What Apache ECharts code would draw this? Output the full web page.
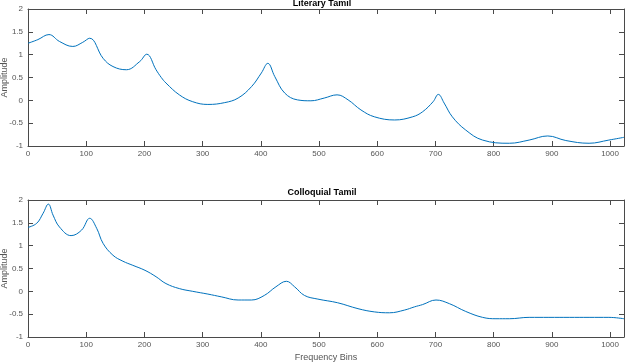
<!DOCTYPE html>
<html>
<head>
<meta charset="utf-8">
<script src="https://cdn.jsdelivr.net/npm/echarts@6/dist/echarts.min.js"></script>
<style>
html,body{margin:0;padding:0;background:#fff;}
#chart{width:626px;height:362px;}
</style>
</head>
<body>
<div id="chart"></div>
<script>
// ---- Data ----
const titles = ["Literary Tamil", "Colloquial Tamil"];
const xAxisName = "Frequency Bins";
const yAxisName = "Amplitude";

const literaryX = [0, 17, 36, 54, 77, 94, 106, 129, 146, 169, 192, 204, 220, 229, 237, 260, 283, 309, 338, 361, 384, 401, 412, 424, 441, 463, 486, 509, 531, 550, 572, 595, 630, 661, 678, 696, 705, 715, 729, 752, 781, 827, 861, 893, 924, 964, 998, 1024];
const literaryY = [1.25, 1.33, 1.44, 1.29, 1.18, 1.27, 1.36, 0.92, 0.74, 0.67, 0.85, 1.01, 0.67, 0.50, 0.38, 0.12, -0.03, -0.09, -0.05, 0.05, 0.30, 0.60, 0.81, 0.52, 0.16, 0.01, -0.01, 0.05, 0.12, 0.01, -0.21, -0.36, -0.43, -0.36, -0.25, -0.03, 0.13, -0.06, -0.36, -0.65, -0.87, -0.94, -0.87, -0.78, -0.88, -0.94, -0.87, -0.81];

const colloquialX = [0, 15, 26, 35, 43, 54, 74, 92, 106, 118, 129, 146, 163, 180, 201, 220, 237, 260, 283, 309, 332, 361, 384, 406, 426, 444, 458, 475, 498, 532, 567, 595, 621, 647, 664, 678, 701, 724, 752, 781, 804, 827, 861, 895, 930, 964, 998, 1024];
const colloquialY = [1.40, 1.49, 1.71, 1.91, 1.67, 1.41, 1.22, 1.34, 1.60, 1.38, 1.05, 0.79, 0.66, 0.57, 0.46, 0.32, 0.17, 0.06, 0.00, -0.06, -0.12, -0.19, -0.19, -0.09, 0.10, 0.22, 0.10, -0.09, -0.17, -0.25, -0.38, -0.45, -0.47, -0.41, -0.34, -0.29, -0.19, -0.27, -0.44, -0.57, -0.60, -0.60, -0.57, -0.57, -0.57, -0.57, -0.57, -0.60];

const xMin = 0, xMax = 1024, xStep = 100;
const yMin = -1, yMax = 2, yStep = 0.5;

// ---- Chart ----
const FONT = '"Liberation Sans", Arial, Helvetica, sans-serif';
const AX = '#4a4a4a';
const LBL = '#555555';
const LINE = '#0072BD';

function pairs(xs, ys) { return xs.map((x, i) => [x, ys[i]]); }

const grids = [
  { left: 28, top: 9, width: 596, height: 137, containLabel: false, outerBoundsMode: 'none' },
  { left: 28, top: 200, width: 596, height: 137, containLabel: false, outerBoundsMode: 'none' }
];
const titleY = [3.5, 193];

const xAxes = [], yAxes = [], series = [], graphics = [];
const datasets = [pairs(literaryX, literaryY), pairs(colloquialX, colloquialY)];

grids.forEach((g, i) => {
  xAxes.push({
    type: 'value', gridIndex: i, position: 'bottom', min: xMin, max: xMax, interval: xStep,
    axisLine: { show: true, onZero: false, lineStyle: { color: AX, width: 1 } },
    axisTick: { show: true, inside: true, length: 5, lineStyle: { color: AX } },
    axisLabel: { show: true, showMaxLabel: false, color: LBL, fontSize: 8, fontFamily: FONT, margin: 4,
                 formatter: v => String(v) },
    splitLine: { show: false },
    name: i === 1 ? xAxisName : '', nameLocation: 'middle', nameGap: 16, nameMoveOverlap: false,
    nameTextStyle: { color: LBL, fontSize: 9, fontFamily: FONT }
  });
  xAxes.push({
    type: 'value', gridIndex: i, position: 'top', min: xMin, max: xMax, interval: xStep,
    axisLine: { show: true, onZero: false, lineStyle: { color: AX, width: 1 } },
    axisTick: { show: true, inside: true, length: 5, lineStyle: { color: AX } },
    axisLabel: { show: false }, splitLine: { show: false }
  });
  yAxes.push({
    type: 'value', gridIndex: i, position: 'left', min: yMin, max: yMax, interval: yStep,
    axisLine: { show: true, onZero: false, lineStyle: { color: AX, width: 1 } },
    axisTick: { show: true, inside: true, length: 5, lineStyle: { color: AX } },
    axisLabel: { show: true, color: LBL, fontSize: 8, fontFamily: FONT, margin: 5,
                 formatter: v => String(v) },
    splitLine: { show: false },
    name: yAxisName, nameLocation: 'middle', nameGap: 19, nameMoveOverlap: false,
    nameTextStyle: { color: LBL, fontSize: 9, fontFamily: FONT }
  });
  yAxes.push({
    type: 'value', gridIndex: i, position: 'right', min: yMin, max: yMax, interval: yStep,
    axisLine: { show: true, onZero: false, lineStyle: { color: AX, width: 1 } },
    axisTick: { show: true, inside: true, length: 5, lineStyle: { color: AX } },
    axisLabel: { show: false }, splitLine: { show: false }
  });
  series.push({
    type: 'line', xAxisIndex: i * 2, yAxisIndex: i * 2, data: datasets[i],
    showSymbol: false, symbol: 'none', smooth: 0.4,
    lineStyle: { color: LINE, width: 1 }, animation: false
  });
  graphics.push({
    type: 'text', x: g.left + g.width / 2 - 4, y: titleY[i],
    style: { text: titles[i], textAlign: 'center', textVerticalAlign: 'middle',
             font: 'bold 9px ' + FONT, fill: '#000' }
  });
});

const chart = echarts.init(document.getElementById('chart'), null, { renderer: 'canvas' });
chart.setOption({
  backgroundColor: '#ffffff',
  animation: false,
  grid: grids,
  xAxis: xAxes,
  yAxis: yAxes,
  series: series,
  graphic: graphics
});
</script>
</body>
</html>
